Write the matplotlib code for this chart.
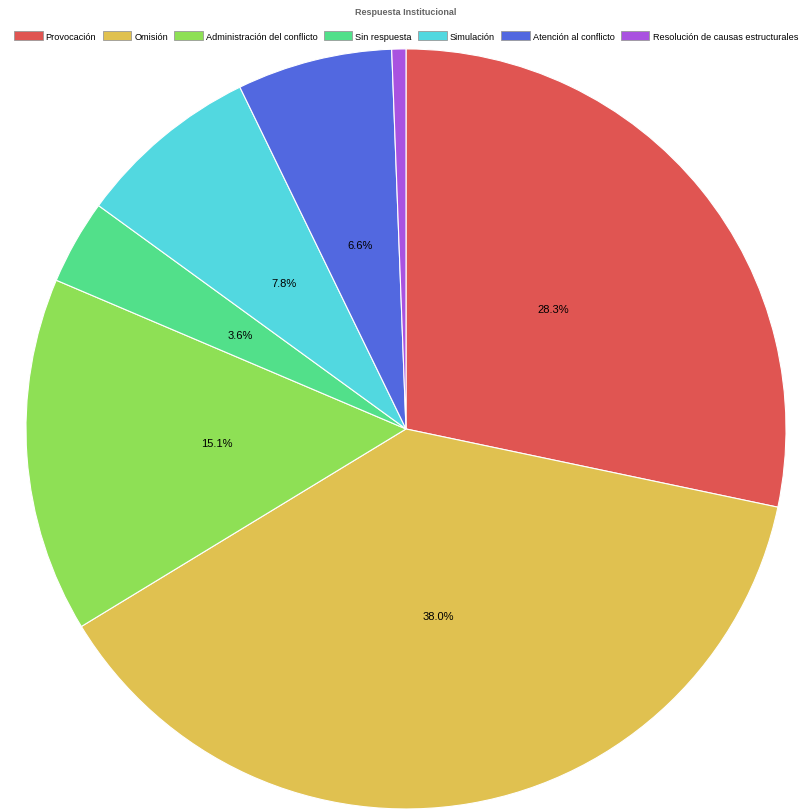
import matplotlib.pyplot as plt
from matplotlib.patches import Patch

# Data
categorias = ['Provocación', 'Omisión', 'Administración del conflicto', 'Sin respuesta',
              'Simulación', 'Atención al conflicto', 'Resolución de causas estructurales']
porcentajes = [28.3, 38.0, 15.1, 3.6, 7.8, 6.6, 0.6]
colores = ['#E05552', '#E0C150', '#8EE055', '#52E08A', '#52D8E0', '#5268E0', '#A952E0']

plt.rcParams['font.family'] = ['Liberation Sans', 'DejaVu Sans']

fig = plt.figure(figsize=(8.12, 8.12), dpi=100)
ax = fig.add_axes([0.032, 0.0025, 0.936, 0.936])

def etiqueta(p):
    return f'{p:.1f}%' if p >= 2 else ''

ax.pie(porcentajes, colors=colores, startangle=90, counterclock=False,
       autopct=etiqueta, pctdistance=0.5,
       wedgeprops={'edgecolor': 'white', 'linewidth': 0.8},
       textprops={'fontsize': 8, 'color': 'black'})
ax.set_xlim(-1, 1)
ax.set_ylim(-1, 1)
ax.set_aspect('equal')

fig.text(0.5, 0.985, 'Respuesta Institucional', ha='center', va='center',
         fontsize=6.5, fontweight='bold', color='#666666')

handles = [Patch(facecolor=c, edgecolor='#999999', linewidth=0.6) for c in colores]
fig.legend(handles, categorias, loc='center', bbox_to_anchor=(0.5, 0.955), ncol=7,
           frameon=False, fontsize=6.6, handlelength=3.1, handleheight=1.3,
           handletextpad=0.35, columnspacing=0.68, borderpad=0, borderaxespad=0)

plt.savefig('out.png', dpi=100)
